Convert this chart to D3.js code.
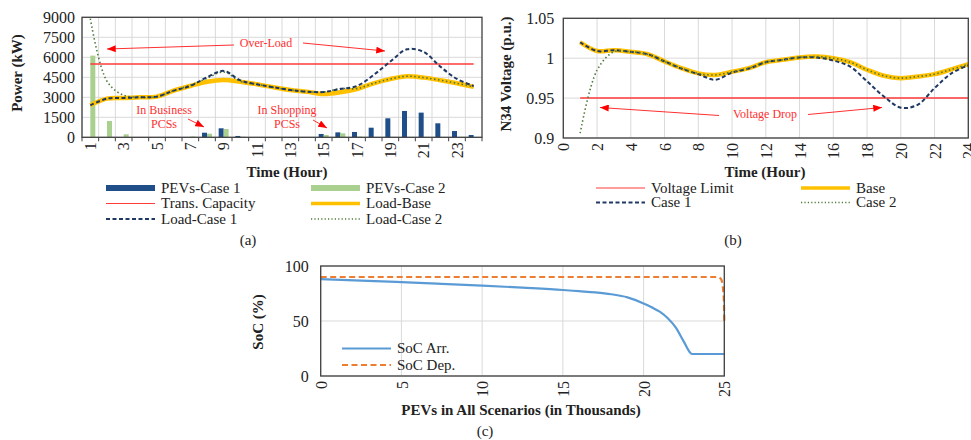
<!DOCTYPE html>
<html>
<head>
<meta charset="utf-8">
<script src="https://cdn.jsdelivr.net/npm/d3@7"></script>
<style>
  body { margin: 0; background: #fff; }
  svg { display: block; }
  text { font-family: "Liberation Serif", "Times New Roman", serif; }
</style>
</head>
<body>
<div id="fig"></div>
<script>
// ---- data (a): power per hour
const hours = [1,2,3,4,5,6,7,8,9,10,11,12,13,14,15,16,17,18,19,20,21,22,23,24]
const hourLabels = [1,3,5,7,9,11,13,15,17,19,21,23]
const powerTicks = [0,1500,3000,4500,6000,7500,9000]
const pevsCase1 = [0,0,0,0,0,0,0,345,675,100,0,0,0,0,250,370,400,720,1425,1975,1850,1050,470,170]
const pevsCase2 = [6125,1220,225,0,0,0,60,270,620,40,0,0,0,0,170,300,50,0,0,0,0,0,0,0]
const loadBase  = [2400,2900,2950,3000,3050,3500,3850,4170,4300,4170,3975,3750,3550,3420,3250,3375,3625,4050,4375,4580,4475,4280,4050,3780]
const loadCase1 = [2400,2900,2950,3000,3050,3500,3850,4500,4980,4270,3975,3750,3550,3420,3400,3625,3850,4680,5680,6600,6400,5300,4375,3850]
const loadCase2 = [8900,4200,3150,3000,3050,3500,3900,4430,4900,4200,3975,3750,3550,3420,3400,3650,3650,4050,4375,4580,4475,4280,4050,3780]
const transCapacity = 5500

// ---- data (b): N34 voltage per hour
const voltTicks = [0.9,0.95,1,1.05]
const voltHourTicks = [0,2,4,6,8,10,12,14,16,18,20,22,24]
const voltBase  = [1.020,1.009,1.010,1.008,1.005,0.996,0.9875,0.981,0.979,0.983,0.9875,0.995,0.998,1.001,1.002,1.000,0.995,0.9855,0.978,0.975,0.977,0.980,0.986,0.9925]
const voltCase1 = [1.020,1.009,1.010,1.008,1.005,0.996,0.987,0.980,0.973,0.982,0.987,0.995,0.998,1.001,1.0008,0.997,0.9895,0.971,0.952,0.938,0.9416,0.9625,0.981,0.991]
const voltCase2 = [0.906,0.985,1.008,1.008,1.005,0.996,0.9875,0.981,0.979,0.983,0.9875,0.995,0.998,1.001,1.002,1.000,0.995,0.9855,0.978,0.975,0.977,0.980,0.986,0.9925]
const voltLimit = 0.95

// ---- data (c): SoC over PEVs (thousands)
const socTicks = [0,50,100]
const pevTicks = [0,5,10,15,20,25]
const arrPevs = [0,2.5,5,7.5,10,12.5,15,16,17,18,19,20,20.5,21,21.5,22,22.5,22.9,23,25]
const socArr  = [88,86.7,85.3,83.8,82.2,80.3,78.2,77.1,76,74.3,71.5,66,62.5,58.5,52.5,44,31,21,20,20]
const depPevs = [0,24.6,24.8,24.9,24.97,25]
const socDep  = [90,90,88,82,70,50]

const C = {
  navy: "#1F4E89", green: "#A9D08E", yellow: "#FFC000", dash: "#1F3864",
  dot: "#4F7A3A", red: "#FF3B3B", grid: "#D9D9D9", frame: "#404040",
  blue: "#5B9BD5", orange: "#ED7D31"
}
const tickFont = 16

const svg = d3.select("#fig").append("svg")
    .attr("width", 971)
    .attr("height", 440)

svg.append("defs").append("marker")
    .attr("id", "arrow")
    .attr("viewBox", "0 0 10 8")
    .attr("refX", 10).attr("refY", 4)
    .attr("markerWidth", 9).attr("markerHeight", 7)
    .attr("markerUnits", "userSpaceOnUse")
    .attr("orient", "auto")
  .append("path")
    .attr("d", "M0,0L10,4L0,8z")
    .attr("fill", "#FF0000")

function styleAxis(g, size) {
  g.select(".domain").remove()
  g.selectAll("text")
    .attr("font-family", "Liberation Serif, Times New Roman, serif")
    .attr("font-size", size)
    .attr("fill", "#222")
  g.attr("font-family", null).attr("font-size", null)
}

function rotateLabels(g) {
  g.selectAll("text")
    .attr("transform", "rotate(-90)")
    .attr("text-anchor", "end")
    .attr("x", -5).attr("y", 0)
    .attr("dy", "0.35em")
}

function title(txt, x, y, rot) {
  svg.append("text")
    .attr("transform", "translate(" + x + "," + y + ")" + (rot ? " rotate(-90)" : ""))
    .attr("text-anchor", "middle")
    .attr("font-size", 15)
    .attr("font-weight", "bold")
    .attr("fill", "#222")
    .text(txt)
}

function note(txt, x, y) {
  svg.append("text")
    .attr("x", x).attr("y", y)
    .attr("text-anchor", "middle")
    .attr("font-size", 12)
    .attr("fill", "#FF3030")
    .text(txt)
}

function arrow(x1, y1, x2, y2) {
  svg.append("line")
    .attr("x1", x1).attr("y1", y1).attr("x2", x2).attr("y2", y2)
    .attr("stroke", "#FF3030").attr("stroke-width", 1)
    .attr("marker-end", "url(#arrow)")
}

// legend entry: kind = rect | line
function legendItem(x, y, kind, color, width, dash, label) {
  if (kind === "rect") {
    svg.append("rect").attr("x", x).attr("y", y - 3).attr("width", 49).attr("height", 6).attr("fill", color)
  } else {
    svg.append("line").attr("x1", x).attr("x2", x + 49).attr("y1", y).attr("y2", y)
      .attr("stroke", color).attr("stroke-width", width).attr("stroke-dasharray", dash)
  }
  svg.append("text").attr("x", x + 55).attr("y", y).attr("dy", "0.33em")
    .attr("font-size", 15).attr("fill", "#222").text(label)
}

// ================= (a) =================
const A = {left: 82, right: 482, top: 17.3, bottom: 137.3}
const xA = d3.scaleBand().domain(hours).range([A.left, A.right])
const yA = d3.scaleLinear().domain([0, 9000]).range([A.bottom, A.top])
const bw = xA.bandwidth()
const xSub = d3.scaleBand().domain(["c1", "c2"]).range([0, bw]).paddingOuter(0.67)

const gA = svg.append("g")
gA.selectAll(".hgrid").data(powerTicks).enter().append("line")
    .attr("x1", A.left).attr("x2", A.right)
    .attr("y1", d => yA(d)).attr("y2", d => yA(d))
    .attr("stroke", C.grid)
gA.selectAll(".vgrid").data(hours).enter().append("line")
    .attr("x1", d => xA(d)).attr("x2", d => xA(d))
    .attr("y1", A.top).attr("y2", A.bottom)
    .attr("stroke", C.grid)

const barRows = hours.map((h, i) => ({h: h, c1: pevsCase1[i], c2: pevsCase2[i]}))
gA.selectAll(".b1").data(barRows).enter().append("rect")
    .attr("x", d => xA(d.h) + xSub("c1"))
    .attr("width", xSub.bandwidth())
    .attr("y", d => yA(d.c1))
    .attr("height", d => A.bottom - yA(d.c1))
    .attr("fill", C.navy)
gA.selectAll(".b2").data(barRows).enter().append("rect")
    .attr("x", d => xA(d.h) + xSub("c2"))
    .attr("width", xSub.bandwidth())
    .attr("y", d => yA(d.c2))
    .attr("height", d => A.bottom - yA(d.c2))
    .attr("fill", C.green)

gA.append("line")
    .attr("x1", xA(1) + bw / 2).attr("x2", xA(24) + bw / 2)
    .attr("y1", yA(transCapacity)).attr("y2", yA(transCapacity))
    .attr("stroke", C.red).attr("stroke-width", 1.5)

svg.append("clipPath").attr("id", "clipA").append("rect")
    .attr("x", A.left).attr("y", A.top).attr("width", A.right - A.left).attr("height", A.bottom - A.top)

const lineA = d3.line()
    .x((d, i) => xA(hours[i]) + bw / 2)
    .y(d => yA(d))
    .curve(d3.curveCatmullRom.alpha(0.5))

const gLinesA = gA.append("g").attr("clip-path", "url(#clipA)")
gLinesA.append("path").attr("d", lineA(loadBase)).attr("fill", "none")
    .attr("stroke", C.yellow).attr("stroke-width", 4.5)
gLinesA.append("path").attr("d", lineA(loadCase2)).attr("fill", "none")
    .attr("stroke", C.dot).attr("stroke-width", 1.6).attr("stroke-dasharray", "1.5,2.5")
gLinesA.append("path").attr("d", lineA(loadCase1)).attr("fill", "none")
    .attr("stroke", C.dash).attr("stroke-width", 2).attr("stroke-dasharray", "4,2.5")

gA.append("rect").attr("x", A.left).attr("y", A.top)
    .attr("width", A.right - A.left).attr("height", A.bottom - A.top)
    .attr("fill", "none").attr("stroke", C.frame).attr("stroke-width", 1.3)
gA.selectAll(".tick-a").data(hours.concat([25])).enter().append("line")
    .attr("x1", d => d === 25 ? A.right : xA(d)).attr("x2", d => d === 25 ? A.right : xA(d))
    .attr("y1", A.bottom).attr("y2", A.bottom + 4)
    .attr("stroke", C.frame)

svg.append("g").attr("transform", "translate(" + A.left + ",0)")
    .call(d3.axisLeft(yA).tickValues(powerTicks).tickFormat(d3.format("d")).tickSize(0).tickPadding(7))
    .call(g => styleAxis(g, tickFont))
svg.append("g").attr("transform", "translate(0," + A.bottom + ")")
    .call(d3.axisBottom(xA).tickValues(hourLabels).tickSize(0))
    .call(g => styleAxis(g, tickFont))
    .call(rotateLabels)

title("Power (kW)", 22, 73, true)
title("Time (Hour)", 287, 177, false)

note("Over-Load", 266, 47)
arrow(234, 45, 107, 49)
arrow(303, 43, 385, 51)
note("In Business", 164, 114)
note("PCSs", 164, 128)
arrow(188, 119, 204, 127)
note("In Shopping", 287, 114)
note("PCSs", 287, 128)
arrow(313, 120, 327, 128)

legendItem(106, 188, "rect", C.navy, 0, null, "PEVs-Case 1")
legendItem(311, 188, "rect", C.green, 0, null, "PEVs-Case 2")
legendItem(106, 203.5, "line", C.red, 1.2, null, "Trans. Capacity")
legendItem(311, 203.5, "line", C.yellow, 3.5, null, "Load-Base")
legendItem(106, 219, "line", C.dash, 2, "4,2.5", "Load-Case 1")
legendItem(311, 219, "line", C.dot, 1.5, "1.2,2.2", "Load-Case 2")

svg.append("text").attr("x", 248).attr("y", 245).attr("text-anchor", "middle")
    .attr("font-size", 15).attr("fill", "#222").text("(a)")

// ================= (b) =================
const B = {left: 563.3, right: 968.3, top: 18.3, bottom: 138}
const xB = d3.scaleLinear().domain([0, 24]).range([B.left, B.right])
const yB = d3.scaleLinear().domain([0.9, 1.05]).range([B.bottom, B.top])
const gB = svg.append("g")
gB.selectAll(".hgrid").data(voltTicks).enter().append("line")
    .attr("x1", B.left).attr("x2", B.right)
    .attr("y1", d => yB(d)).attr("y2", d => yB(d))
    .attr("stroke", C.grid)
gB.selectAll(".vgrid").data(voltHourTicks).enter().append("line")
    .attr("x1", d => xB(d)).attr("x2", d => xB(d))
    .attr("y1", B.top).attr("y2", B.bottom)
    .attr("stroke", C.grid)
gB.append("line")
    .attr("x1", xB(hours[0])).attr("x2", xB(hours[23]))
    .attr("y1", yB(voltLimit)).attr("y2", yB(voltLimit))
    .attr("stroke", C.red).attr("stroke-width", 1.5)

const lineB = d3.line()
    .x((d, i) => xB(hours[i]))
    .y(d => yB(d))
    .curve(d3.curveCatmullRom.alpha(0.5))
gB.append("path").attr("d", lineB(voltBase)).attr("fill", "none")
    .attr("stroke", C.yellow).attr("stroke-width", 4.5)
gB.append("path").attr("d", lineB(voltCase1)).attr("fill", "none")
    .attr("stroke", C.dash).attr("stroke-width", 2).attr("stroke-dasharray", "4,2.5")
gB.append("path").attr("d", lineB(voltCase2)).attr("fill", "none")
    .attr("stroke", C.dot).attr("stroke-width", 1.6).attr("stroke-dasharray", "1.5,2.5")

gB.append("rect").attr("x", B.left).attr("y", B.top)
    .attr("width", B.right - B.left).attr("height", B.bottom - B.top)
    .attr("fill", "none").attr("stroke", C.frame).attr("stroke-width", 1.3)

svg.append("g").attr("transform", "translate(" + B.left + ",0)")
    .call(d3.axisLeft(yB).tickValues(voltTicks).tickFormat(d3.format("")).tickSize(0).tickPadding(9))
    .call(g => styleAxis(g, tickFont))
svg.append("g").attr("transform", "translate(0," + B.bottom + ")")
    .call(d3.axisBottom(xB).tickValues(voltHourTicks).tickSize(0))
    .call(g => styleAxis(g, tickFont))
    .call(rotateLabels)

title("N34 Voltage (p.u.)", 511, 74, true)
title("Time (Hour)", 765, 177, false)

note("Voltage Drop", 765, 118)
arrow(719, 115.5, 600, 107.5)
arrow(808, 114.5, 882, 107.5)

legendItem(596, 188, "line", C.red, 1.2, null, "Voltage Limit")
legendItem(801, 188, "line", C.yellow, 3.5, null, "Base")
legendItem(596, 202.5, "line", C.dash, 2, "4,2.5", "Case 1")
legendItem(801, 202.5, "line", C.dot, 1.5, "1.2,2.2", "Case 2")

svg.append("text").attr("x", 733).attr("y", 245).attr("text-anchor", "middle")
    .attr("font-size", 15).attr("fill", "#222").text("(b)")

// ================= (c) =================
const S = {left: 320.7, right: 724.3, top: 266, bottom: 376}
const xC = d3.scaleLinear().domain([0, 25]).range([S.left, S.right])
const yC = d3.scaleLinear().domain([0, 100]).range([S.bottom, S.top])
const gC = svg.append("g")
gC.selectAll(".hgrid").data(socTicks).enter().append("line")
    .attr("x1", S.left).attr("x2", S.right)
    .attr("y1", d => yC(d)).attr("y2", d => yC(d))
    .attr("stroke", C.grid)
gC.selectAll(".vgrid").data(pevTicks).enter().append("line")
    .attr("x1", d => xC(d)).attr("x2", d => xC(d))
    .attr("y1", S.top).attr("y2", S.bottom)
    .attr("stroke", C.grid)

const arrLine = d3.line().x((d, i) => xC(arrPevs[i])).y(d => yC(d)).curve(d3.curveMonotoneX)
const depLine = d3.line().x((d, i) => xC(depPevs[i])).y(d => yC(d)).curve(d3.curveMonotoneX)
gC.append("path").attr("d", arrLine(socArr)).attr("fill", "none")
    .attr("stroke", C.blue).attr("stroke-width", 2.2)
gC.append("path").attr("d", depLine(socDep)).attr("fill", "none")
    .attr("stroke", C.orange).attr("stroke-width", 2.2).attr("stroke-dasharray", "6,3.5")

gC.append("rect").attr("x", S.left).attr("y", S.top)
    .attr("width", S.right - S.left).attr("height", S.bottom - S.top)
    .attr("fill", "none").attr("stroke", C.frame).attr("stroke-width", 1.3)

svg.append("g").attr("transform", "translate(" + S.left + ",0)")
    .call(d3.axisLeft(yC).tickValues(socTicks).tickSize(0).tickPadding(12))
    .call(g => styleAxis(g, tickFont))
svg.append("g").attr("transform", "translate(0," + S.bottom + ")")
    .call(d3.axisBottom(xC).tickValues(pevTicks).tickSize(0))
    .call(g => styleAxis(g, tickFont))
    .call(rotateLabels)

title("SoC (%)", 263, 322, true)
title("PEVs in All Scenarios (in Thousands)", 521, 415, false)

legendItem(342, 348.5, "line", C.blue, 2.2, null, "SoC Arr.")
legendItem(342, 365, "line", C.orange, 2.2, "6,3.5", "SoC Dep.")

svg.append("text").attr("x", 485).attr("y", 436).attr("text-anchor", "middle")
    .attr("font-size", 15).attr("fill", "#222").text("(c)")
</script>
</body>
</html>
